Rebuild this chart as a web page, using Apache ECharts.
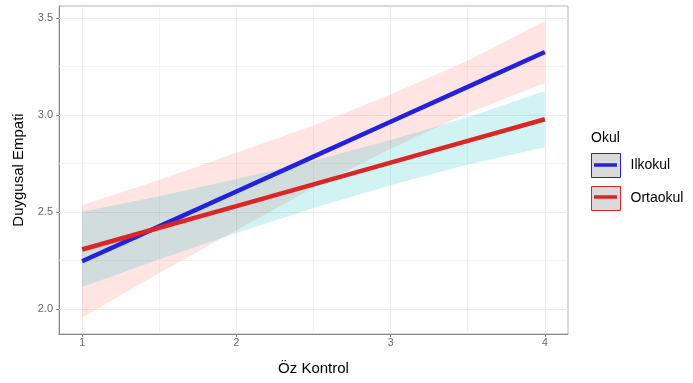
<!DOCTYPE html>
<html>
<head>
<meta charset="utf-8">
<script src="https://cdn.jsdelivr.net/npm/echarts@6/dist/echarts.min.js"></script>
<style>
  html, body { margin: 0; padding: 0; background: #fff; }
  #main { width: 693px; height: 383px; }
</style>
</head>
<body>
<div id="main"></div>
<script>
// values
var xs = [1, 1.5, 2, 2.5, 3, 3.5, 4];
var ilkokulFit = [2.245, 2.425, 2.605, 2.785, 2.965, 3.145, 3.325];
var ilkokulLower = [1.955, 2.185, 2.405, 2.625, 2.825, 3.01, 3.165];
var ilkokulUpper = [2.535, 2.665, 2.805, 2.945, 3.105, 3.28, 3.485];
var ortaokulFit = [2.306, 2.418, 2.530, 2.642, 2.754, 2.866, 2.978];
var ortaokulLower = [2.112, 2.255, 2.391, 2.52, 2.637, 2.744, 2.833];
var ortaokulUpper = [2.50, 2.581, 2.669, 2.764, 2.871, 2.988, 3.123];

var xTicks = [1, 2, 3, 4];
var yTicks = [2.0, 2.5, 3.0, 3.5];
var xMinor = [1.5, 2.5, 3.5];
var yMinor = [2.25, 2.75, 3.25];

var blue = '#2222dd';
var red = '#dc2626';
var font = 'Liberation Sans, Arial, sans-serif';

var pairs = function (a, b) {
    return a.map(function (v, i) { return [v, b[i]]; });
};

// band polygon: upper edge forward, lower edge back
var band = function (name, lower, upper, fill) {
    return {
        type: 'custom',
        name: name,
        z: 2,
        silent: true,
        data: [[xs[0], lower[0]]],
        renderItem: function (params, api) {
            var pts = [];
            for (var i = 0; i < xs.length; i++) pts.push(api.coord([xs[i], upper[i]]));
            for (var j = xs.length - 1; j >= 0; j--) pts.push(api.coord([xs[j], lower[j]]));
            return { type: 'polygon', shape: { points: pts }, style: { fill: fill } };
        }
    };
};

var gridLines = function () {
    var d = [];
    xTicks.forEach(function (v) { d.push({ xAxis: v, lineStyle: { width: 1 } }); });
    xMinor.forEach(function (v) { d.push({ xAxis: v, lineStyle: { width: 0.6 } }); });
    yTicks.forEach(function (v) { d.push({ yAxis: v, lineStyle: { width: 1 } }); });
    yMinor.forEach(function (v) { d.push({ yAxis: v, lineStyle: { width: 0.6 } }); });
    return d;
};

var chart = echarts.init(document.getElementById('main'), null, { renderer: 'canvas' });

var option = {
    animation: false,
    backgroundColor: '#fff',
    textStyle: { fontFamily: font },
    title: {
        text: 'Okul',
        left: 591,
        top: 131,
        padding: 0,
        textStyle: { fontSize: 14, fontWeight: 'normal', color: '#000', fontFamily: font }
    },
    legend: [{
        orient: 'vertical',
        left: 591,
        top: 153,
        padding: 0,
        itemWidth: 29,
        itemHeight: 24,
        itemGap: 8,
        selectedMode: false,
        textStyle: { fontSize: 14, color: '#000', fontFamily: font, padding: [0, 0, 0, 5] },
        data: [
            { name: 'Ilkokul', icon: 'rect', itemStyle: { color: '#dadada', borderColor: blue, borderWidth: 1 } },
            { name: 'Ortaokul', icon: 'rect', itemStyle: { color: '#dadada', borderColor: red, borderWidth: 1 } }
        ]
    }, {
        orient: 'vertical',
        left: 591,
        top: 153,
        padding: 0,
        itemWidth: 29,
        itemHeight: 24,
        itemGap: 8,
        selectedMode: false,
        textStyle: { fontSize: 14, color: 'rgba(0,0,0,0)', fontFamily: font, padding: [0, 0, 0, 5] },
        data: [
            { name: 'Ilkokul', icon: 'path://M0,0L0.05,0L0,0.05Z M29,24L28.95,24L29,23.95Z M3,10.2L26,10.2L26,13.8L3,13.8Z', itemStyle: { color: blue, borderWidth: 0 } },
            { name: 'Ortaokul', icon: 'path://M0,0L0.05,0L0,0.05Z M29,24L28.95,24L29,23.95Z M3,10.2L26,10.2L26,13.8L3,13.8Z', itemStyle: { color: red, borderWidth: 0 } }
        ]
    }],
    grid: {
        left: 59,
        right: 125,
        top: 6,
        bottom: 49,
        show: true,
        borderColor: '#b3b3b3',
        borderWidth: 1,
        backgroundColor: 'transparent'
    },
    xAxis: {
        type: 'value',
        min: 0.85,
        max: 4.15,
        name: 'Öz Kontrol',
        nameLocation: 'middle',
        nameGap: 27,
        nameTextStyle: { fontSize: 15, color: '#000', fontFamily: font },
        axisLine: { show: true, onZero: false, lineStyle: { color: '#8a8a8a', width: 1 } },
        axisTick: { show: true, length: 3, customValues: xTicks, lineStyle: { color: '#8a8a8a' } },
        axisLabel: { customValues: xTicks, fontSize: 10.5, color: '#666', margin: 4, fontFamily: font },
        splitLine: { show: false }
    },
    yAxis: {
        type: 'value',
        min: 1.87,
        max: 3.562,
        name: 'Duygusal Empati',
        nameLocation: 'middle',
        nameGap: 31,
        nameRotate: 90,
        nameTextStyle: { fontSize: 15, color: '#000', fontFamily: font },
        axisLine: { show: true, onZero: false, lineStyle: { color: '#8a8a8a', width: 1 } },
        axisTick: { show: true, length: 3, customValues: yTicks, lineStyle: { color: '#8a8a8a' } },
        axisLabel: {
            customValues: yTicks,
            fontSize: 11,
            color: '#666',
            margin: 6,
            fontFamily: font,
            formatter: function (v) { return v.toFixed(1); }
        },
        splitLine: { show: false }
    },
    series: [
        {
            type: 'line',
            name: 'grid',
            z: 1,
            data: [],
            silent: true,
            markLine: {
                z: 1,
                silent: true,
                symbol: ['none', 'none'],
                label: { show: false },
                lineStyle: { color: '#ebebeb', type: 'solid' },
                data: gridLines()
            }
        },
        band('Ilkokul band', ilkokulLower, ilkokulUpper, 'rgba(248,118,109,0.2)'),
        band('Ortaokul band', ortaokulLower, ortaokulUpper, 'rgba(0,191,196,0.18)'),
        {
            type: 'line',
            name: 'Ilkokul',
            z: 3,
            data: pairs(xs, ilkokulFit),
            showSymbol: false,
            symbol: 'none',
            color: blue,
            lineStyle: { color: blue, width: 4.5 }
        },
        {
            type: 'line',
            name: 'Ortaokul',
            z: 3,
            data: pairs(xs, ortaokulFit),
            showSymbol: false,
            symbol: 'none',
            color: red,
            lineStyle: { color: red, width: 4.5 }
        }
    ]
};

chart.setOption(option);
</script>
</body>
</html>
